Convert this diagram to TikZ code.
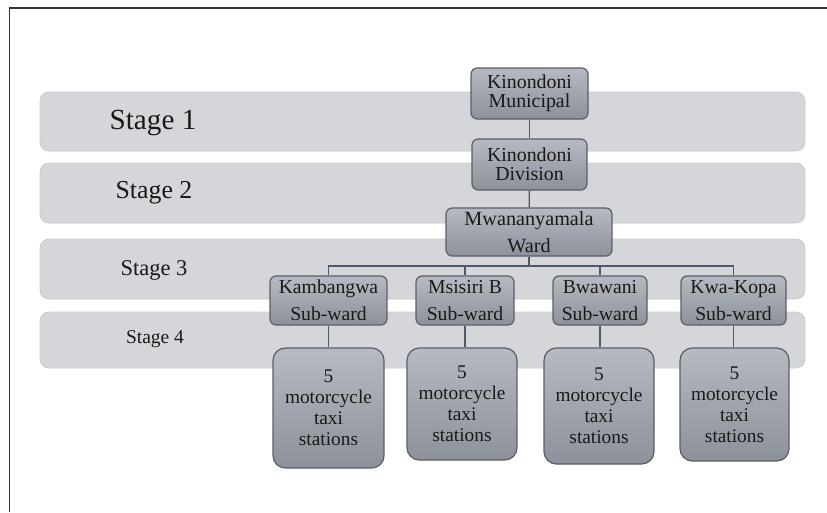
\documentclass[tikz,border=0pt]{standalone}
\usepackage{fontspec}
\setmainfont{Liberation Serif}
\definecolor{bandgray}{HTML}{D5D6DA}
\definecolor{bandline}{HTML}{C8C9CD}
\definecolor{boxtop}{HTML}{B6BAC2}
\definecolor{boxbot}{HTML}{8C919A}
\definecolor{boxline}{HTML}{5A5F68}
\definecolor{linkcol}{HTML}{4D5A6B}

\begin{document}
\begin{tikzpicture}[
    x=0.02cm, y=-0.02cm,
    band/.style={draw=bandline, line width=0.4pt, fill=bandgray, rounded corners=5pt, minimum width=15.3cm, inner sep=0pt},
    stagelbl/.style={inner sep=0pt, text=black!90},
    unit/.style={draw=boxline, line width=0.7pt, top color=boxtop, bottom color=boxbot, rounded corners=3.5pt, align=center, inner sep=1pt, text=black!90},
    top/.style={unit, font=\fontsize{11.3}{10.8}\selectfont},
    ward/.style={unit, font=\fontsize{11.5}{15.3}\selectfont},
    subward/.style={unit, minimum height=0.98cm, font=\fontsize{11.2}{15.3}\selectfont},
    station/.style={unit, rounded corners=7pt, font=\fontsize{11}{12}\selectfont},
    link/.style={draw=linkcol, line width=0.8pt}
  ]
    \useasboundingbox (0,0) rectangle (827,512);
    \draw[line width=1.1pt, black!80] (9.5,512) -- (9.5,8) -- (827,8);

    \node[band, minimum height=1.18cm] (band1) at (422.5,121.5) {};
    \node[band, minimum height=1.20cm] (band2) at (422.5,193) {};
    \node[band, minimum height=1.20cm] (band3) at (422.5,269) {};
    \node[band, minimum height=1.12cm] (band4) at (422.5,340) {};
    \node[stagelbl, font=\fontsize{16.6}{18}\selectfont] (lbl1) at (153,123) {Stage 1};
    \node[stagelbl, font=\fontsize{14.7}{16}\selectfont] (lbl2) at (154,193) {Stage 2};
    \node[stagelbl, font=\fontsize{12.8}{14}\selectfont] (lbl3) at (154,270) {Stage 3};
    \node[stagelbl, font=\fontsize{11.1}{12}\selectfont] (lbl4) at (155,339) {Stage 4};

    \node[top, minimum width=2.34cm, minimum height=1.02cm] (muni) at (529.5,93.5) {Kinondoni\\Municipal};
    \node[top, minimum width=2.30cm, minimum height=1.02cm] (div) at (529.5,164.5) {Kinondoni\\Division};
    \node[ward, minimum width=3.32cm, minimum height=0.96cm] (wardn) at (529,232) {Mwananyamala\\Ward};

    \node[subward, minimum width=2.34cm] (kamb) at (328.5,300.5) {Kambangwa\\Sub-ward};
    \node[subward, minimum width=1.96cm] (msis) at (465,300.5) {Msisiri B\\Sub-ward};
    \node[subward, minimum width=1.88cm] (bwaw) at (600,300.5) {Bwawani\\Sub-ward};
    \node[subward, minimum width=2.10cm] (kwak) at (733.5,300.5) {Kwa-Kopa\\Sub-ward};

    \node[station, minimum width=2.22cm, minimum height=2.40cm] (st1) at (328.5,408) {5\\motorcycle\\taxi\\stations};
    \node[station, minimum width=2.20cm, minimum height=2.24cm] (st2) at (462,404) {5\\motorcycle\\taxi\\stations};
    \node[station, minimum width=2.20cm, minimum height=2.32cm] (st3) at (599,406) {5\\motorcycle\\taxi\\stations};
    \node[station, minimum width=2.18cm, minimum height=2.26cm] (st4) at (734.5,404.5) {5\\motorcycle\\taxi\\stations};

    \coordinate (bus) at (529,266);
    \draw[link] (muni) -- (div);
    \draw[link] (div) -- (wardn);
    \draw[link] (wardn.south) -- (bus);
    \draw[link] (bus) -| (kamb.north);
    \draw[link] (bus) -| (msis.north);
    \draw[link] (bus) -| (bwaw.north);
    \draw[link] (bus) -| (kwak.north);
    \draw[link] (kamb.south) -- (kamb.south |- st1.north);
    \draw[link] (msis.south) -- (msis.south |- st2.north);
    \draw[link] (bwaw.south) -- (bwaw.south |- st3.north);
    \draw[link] (kwak.south) -- (kwak.south |- st4.north);
  \end{tikzpicture}
\end{document}
